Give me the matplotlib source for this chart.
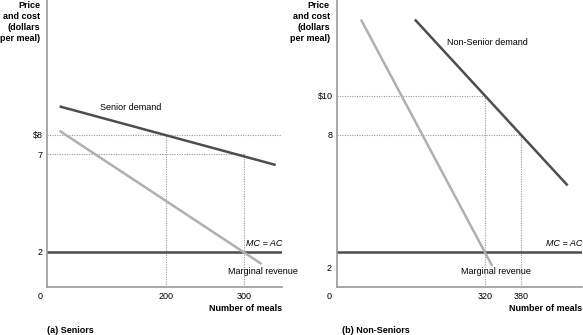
import matplotlib
matplotlib.use("Agg")
import matplotlib.pyplot as plt

plt.rcParams['font.family'] = ['Liberation Sans', 'DejaVu Sans']

# (a) Seniors
sen_q = [65, 340]
sen_demand = [9.45, 6.45]
sen_mr_q = [65, 322]
sen_mr = [8.2, 1.38]
sen_xticks = [200, 300]
sen_yticks = [2, 7, 8]
sen_ylabels = ['2', '7', '$8']
sen_xlim = (49, 348)

# (b) Non-Seniors
non_q = [203, 458]
non_demand = [13.9, 5.4]
non_mr_q = [113, 332]
non_mr = [13.9, 1.28]
non_xticks = [320, 380]
non_yticks = [8, 10]
non_ylabels = ['8', '$10']
non_xlim = (73, 482)

mc = 2
ylim = (0.2, 14.9)

dark = '#4d4d4d'
light = '#b0b0b0'
axis_col = '#9a9a9a'
dot_col = '#9a9a9a'
fs = 6.5

fig = plt.figure(figsize=(5.83, 3.35), dpi=100)
ax1 = fig.add_axes([47/583, 1-287/335, (282-47)/583, 287/335])
ax2 = fig.add_axes([337/583, 1-287/335, (582-337)/583, 287/335])


def setup(ax, xlim, xticks, yticks, ylabels):
    ax.set_xlim(*xlim)
    ax.set_ylim(*ylim)
    for s in ['top', 'right']:
        ax.spines[s].set_visible(False)
    for s in ['left', 'bottom']:
        ax.spines[s].set_color(axis_col)
        ax.spines[s].set_linewidth(1.2)
    ax.set_xticks(xticks)
    ax.set_xticklabels([str(v) for v in xticks], fontsize=fs)
    ax.set_yticks(yticks)
    ax.set_yticklabels(ylabels, fontsize=fs)
    ax.tick_params(length=0, pad=3)
    ax.tick_params(axis='x', pad=3.5)
    ax.patch.set_alpha(0)
    # origin label
    ax.text(-0.02, -0.018, '0', transform=ax.transAxes, ha='right', va='top', fontsize=fs)
    ax.text(-0.03, 0.995, 'Price\nand cost\n(dollars\nper meal)', transform=ax.transAxes,
            ha='right', va='top', fontsize=fs, fontweight='bold', linespacing=1.25)
    ax.text(1.0, -0.06, 'Number of meals', transform=ax.transAxes, ha='right', va='top',
            fontsize=fs, fontweight='bold')


setup(ax1, sen_xlim, sen_xticks, sen_yticks, sen_ylabels)
setup(ax2, non_xlim, non_xticks, non_yticks, non_ylabels)

dot = dict(color=dot_col, lw=0.8, ls=(0, (1, 1.2)), zorder=1)

# panel (a)
ax1.plot([sen_xlim[0], sen_xlim[1]], [8, 8], **dot)
ax1.plot([sen_xlim[0], sen_xticks[1]], [7, 7], **dot)
ax1.plot([sen_xticks[0], sen_xticks[0]], [ylim[0], 8], **dot)
ax1.plot([sen_xticks[1], sen_xticks[1]], [ylim[0], 7], **dot)
ax1.plot(sen_q, sen_demand, color=dark, lw=1.8, solid_capstyle='butt', zorder=3)
ax1.plot(sen_mr_q, sen_mr, color=light, lw=1.8, solid_capstyle='butt', zorder=3)
ax1.axhline(mc, color=dark, lw=1.8, zorder=2)
ax1.text(116, 9.38, 'Senior demand', fontsize=fs, va='center')
ax1.text(sen_xlim[1], 2.2, 'MC = AC', fontsize=fs, style='italic', ha='right', va='bottom')
ax1.text(279, 0.97, 'Marginal revenue', fontsize=fs, va='center')
ax1.text(0, -0.135, '(a) Seniors', transform=ax1.transAxes, fontsize=fs,
         fontweight='bold', va='top')

# panel (b)
ax2.plot([non_xlim[0], non_xticks[0]], [10, 10], **dot)
ax2.plot([non_xlim[0], non_xticks[1]], [8, 8], **dot)
ax2.plot([non_xticks[0], non_xticks[0]], [ylim[0], 10], **dot)
ax2.plot([non_xticks[1], non_xticks[1]], [ylim[0], 8], **dot)
ax2.plot(non_q, non_demand, color=dark, lw=1.8, solid_capstyle='butt', zorder=3)
ax2.plot(non_mr_q, non_mr, color=light, lw=1.8, solid_capstyle='butt', zorder=3)
ax2.axhline(mc, color=dark, lw=1.8, zorder=2)
ax2.text(257, 12.7, 'Non-Senior demand', fontsize=fs, va='center')
ax2.text(non_xlim[1], 2.2, 'MC = AC', fontsize=fs, style='italic', ha='right', va='bottom')
ax2.text(280, 0.97, 'Marginal revenue', fontsize=fs, va='center')
ax2.annotate('2', xy=(0, mc), xycoords=('axes fraction', 'data'), xytext=(-4, -12),
             textcoords='offset points', ha='right', va='center', fontsize=fs)
ax2.text(0.02, -0.135, '(b) Non-Seniors', transform=ax2.transAxes, fontsize=fs,
         fontweight='bold', va='top')

fig.savefig('out.png', dpi=100)
